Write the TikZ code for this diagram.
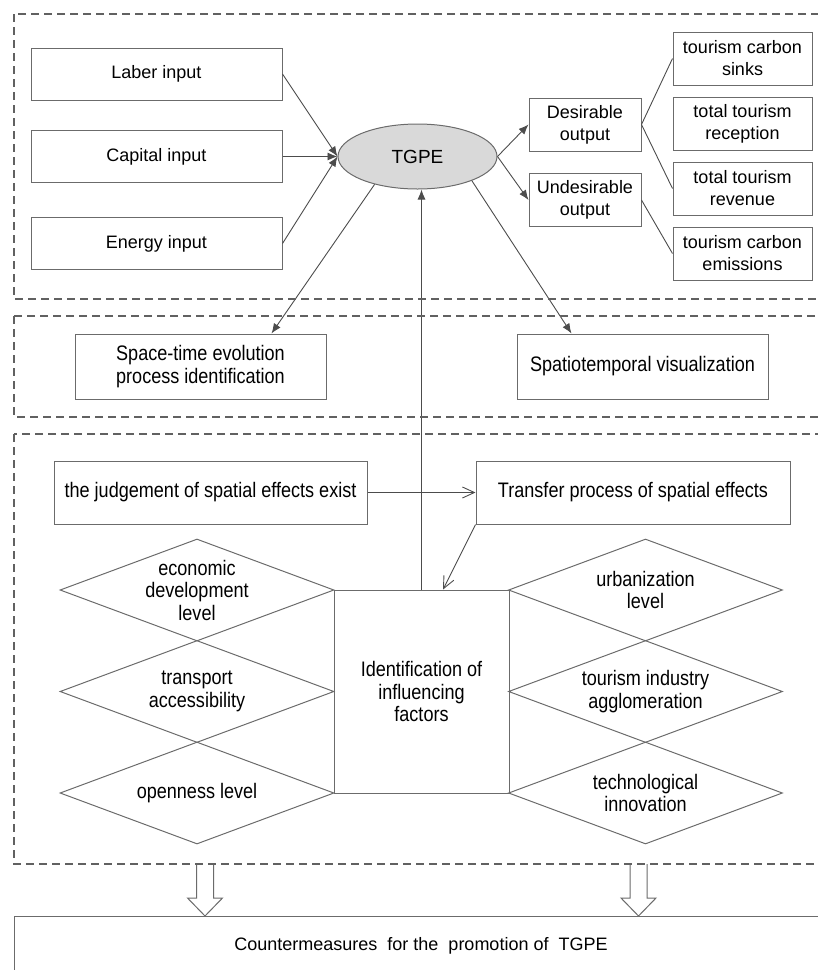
\documentclass[tikz,border=0pt]{standalone}
\usepackage{fontspec}
\setmainfont{Liberation Sans}
\newfontfamily\narrowsf[FakeStretch=0.86]{Liberation Sans}
\usepackage{tikz}
\usetikzlibrary{arrows.meta,shapes.geometric,positioning}

\definecolor{framegray}{gray}{0.38}
\definecolor{linegray}{gray}{0.42}
\definecolor{tgpefill}{gray}{0.85}

\begin{document}
\begin{tikzpicture}[x=1pt,y=-1pt,>={Latex[length=10pt,width=8pt]},
  every node/.style={font=\fontsize{18}{22}\selectfont},
  box/.style={draw=linegray,line width=1pt,align=center,inner sep=0pt},
  nbox/.style={box,font=\narrowsf\fontsize{21}{22.5}\selectfont},
  factor/.style={diamond,draw=linegray,line width=1pt,align=center,aspect=2.69,inner sep=-4pt,
    minimum width=274pt,minimum height=102pt,font=\narrowsf\fontsize{21}{22.5}\selectfont},
  frame/.style={draw=framegray,line width=1.5pt,dash pattern=on 8pt off 5pt},
  link/.style={draw=black!70,line width=0.9pt},
  hollow/.style={draw=linegray,line width=1pt,fill=white}]

      \useasboundingbox (0,0) rectangle (818,970);
      \clip (0,0) rectangle (818,970);

      % input / output part
      \node[box,minimum width=251pt,minimum height=52pt] (labor) at (156.5,74) {Laber input};
      \node[box,minimum width=251pt,minimum height=52pt] (capital) at (156.5,156.5) {Capital input};
      \node[box,minimum width=251pt,minimum height=52pt] (energy) at (156.5,243.5) {Energy input};

      \node[ellipse,draw=linegray,fill=tgpefill,line width=1pt,minimum width=159pt,minimum height=65pt,
        inner sep=0pt,font=\fontsize{19}{22}\selectfont] (tgpe) at (417.5,156.5) {TGPE};

      \node[box,minimum width=112pt,minimum height=53pt] (desired) at (585,124.5) {Desirable\\output};
      \node[box,minimum width=112pt,minimum height=53pt] (undesired) at (585,200) {Undesirable\\output};

      \node[box,minimum width=139pt,minimum height=53pt] (sinks) at (742.5,58.5) {tourism carbon\\sinks};
      \node[box,minimum width=139pt,minimum height=53pt,below of=sinks,node distance=65pt] (reception) {total tourism\\reception};
      \node[box,minimum width=139pt,minimum height=53pt,below of=reception,node distance=65pt] (revenue) {total tourism\\revenue};
      \node[box,minimum width=139pt,minimum height=53pt,below of=revenue,node distance=65pt] (emission) {tourism carbon\\emissions};

      % space-time part
      \node[nbox,minimum width=251pt,minimum height=65pt] (evolution) at (200.5,366.5) {Space-time evolution\\process identification};
      \node[nbox,minimum width=251pt,minimum height=65pt] (visual) at (642.5,366.5) {Spatiotemporal visualization};

      % influencing factors part
      \node[nbox,minimum width=313pt,minimum height=63pt] (judge) at (210.5,492.5) {the judgement of spatial effects exist};
      \node[nbox,minimum width=314pt,minimum height=63pt] (transfer) at (633,492.5) {Transfer process of spatial effects};
      \node[nbox,minimum width=175pt,minimum height=203pt] (ident) at (421.5,691.5) {Identification of\\influencing\\factors};

      \node[factor] (econ) at (197,590) {economic\\development\\level};
      \node[factor,below of=econ,node distance=101.5pt] (transport) {transport\\accessibility};
      \node[factor,below of=transport,node distance=101.5pt] (openness) {openness level};
      \node[factor] (urban) at (645.5,590) {urbanization\\level};
      \node[factor,below of=urban,node distance=101.5pt] (agglom) {tourism industry\\agglomeration};
      \node[factor,below of=agglom,node distance=101.5pt] (techno) {technological\\innovation};

      \node[box,minimum width=814pt,minimum height=60pt] (counter) at (421,946) {Countermeasures\ \ for the\ \ promotion of\ \ TGPE};

      % connectors
      \draw[link,->] (labor.east) -- (tgpe.west);
      \draw[link,->] (capital.east) -- (tgpe.west);
      \draw[link,->] (energy.east) -- (tgpe.west);
      \draw[link,->] (tgpe.east) -- (desired.west);
      \draw[link,->] (tgpe.east) -- (undesired.west);
      \draw[link] (desired.east) -- (sinks.west);
      \draw[link] (desired.east) -- (revenue.west);
      \draw[link] (undesired.east) -- (emission.west);
      \draw[link,->] (tgpe.213) -- ([xshift=71pt]evolution.north);
      \draw[link,->] (tgpe.336) -- ([xshift=-71pt]visual.north);
      \draw[link,->] (ident.north) -- (ident.north |- tgpe.south);
      \draw[link,-{Straight Barb[length=12pt,width=11pt]}] (judge.east) -- (transfer.west);
      \draw[link,-{Straight Barb[length=12pt,width=11pt]}] (transfer.south west) -- ([xshift=21.5pt]ident.north);

      % hollow arrows to the countermeasures
      \foreach \x in {205,638.5}
        \draw[hollow] (\x-8.5,864) -- (\x-8.5,898) -- (\x-17.5,898) -- (\x,916)
          -- (\x+17.5,898) -- (\x+8.5,898) -- (\x+8.5,864);

      % dashed frames
      \draw[frame] (14,14) rectangle (840,299);
      \draw[frame] (14,316) rectangle (840,417);
      \draw[frame] (14,434) rectangle (840,864);

    \end{tikzpicture}
\end{document}
